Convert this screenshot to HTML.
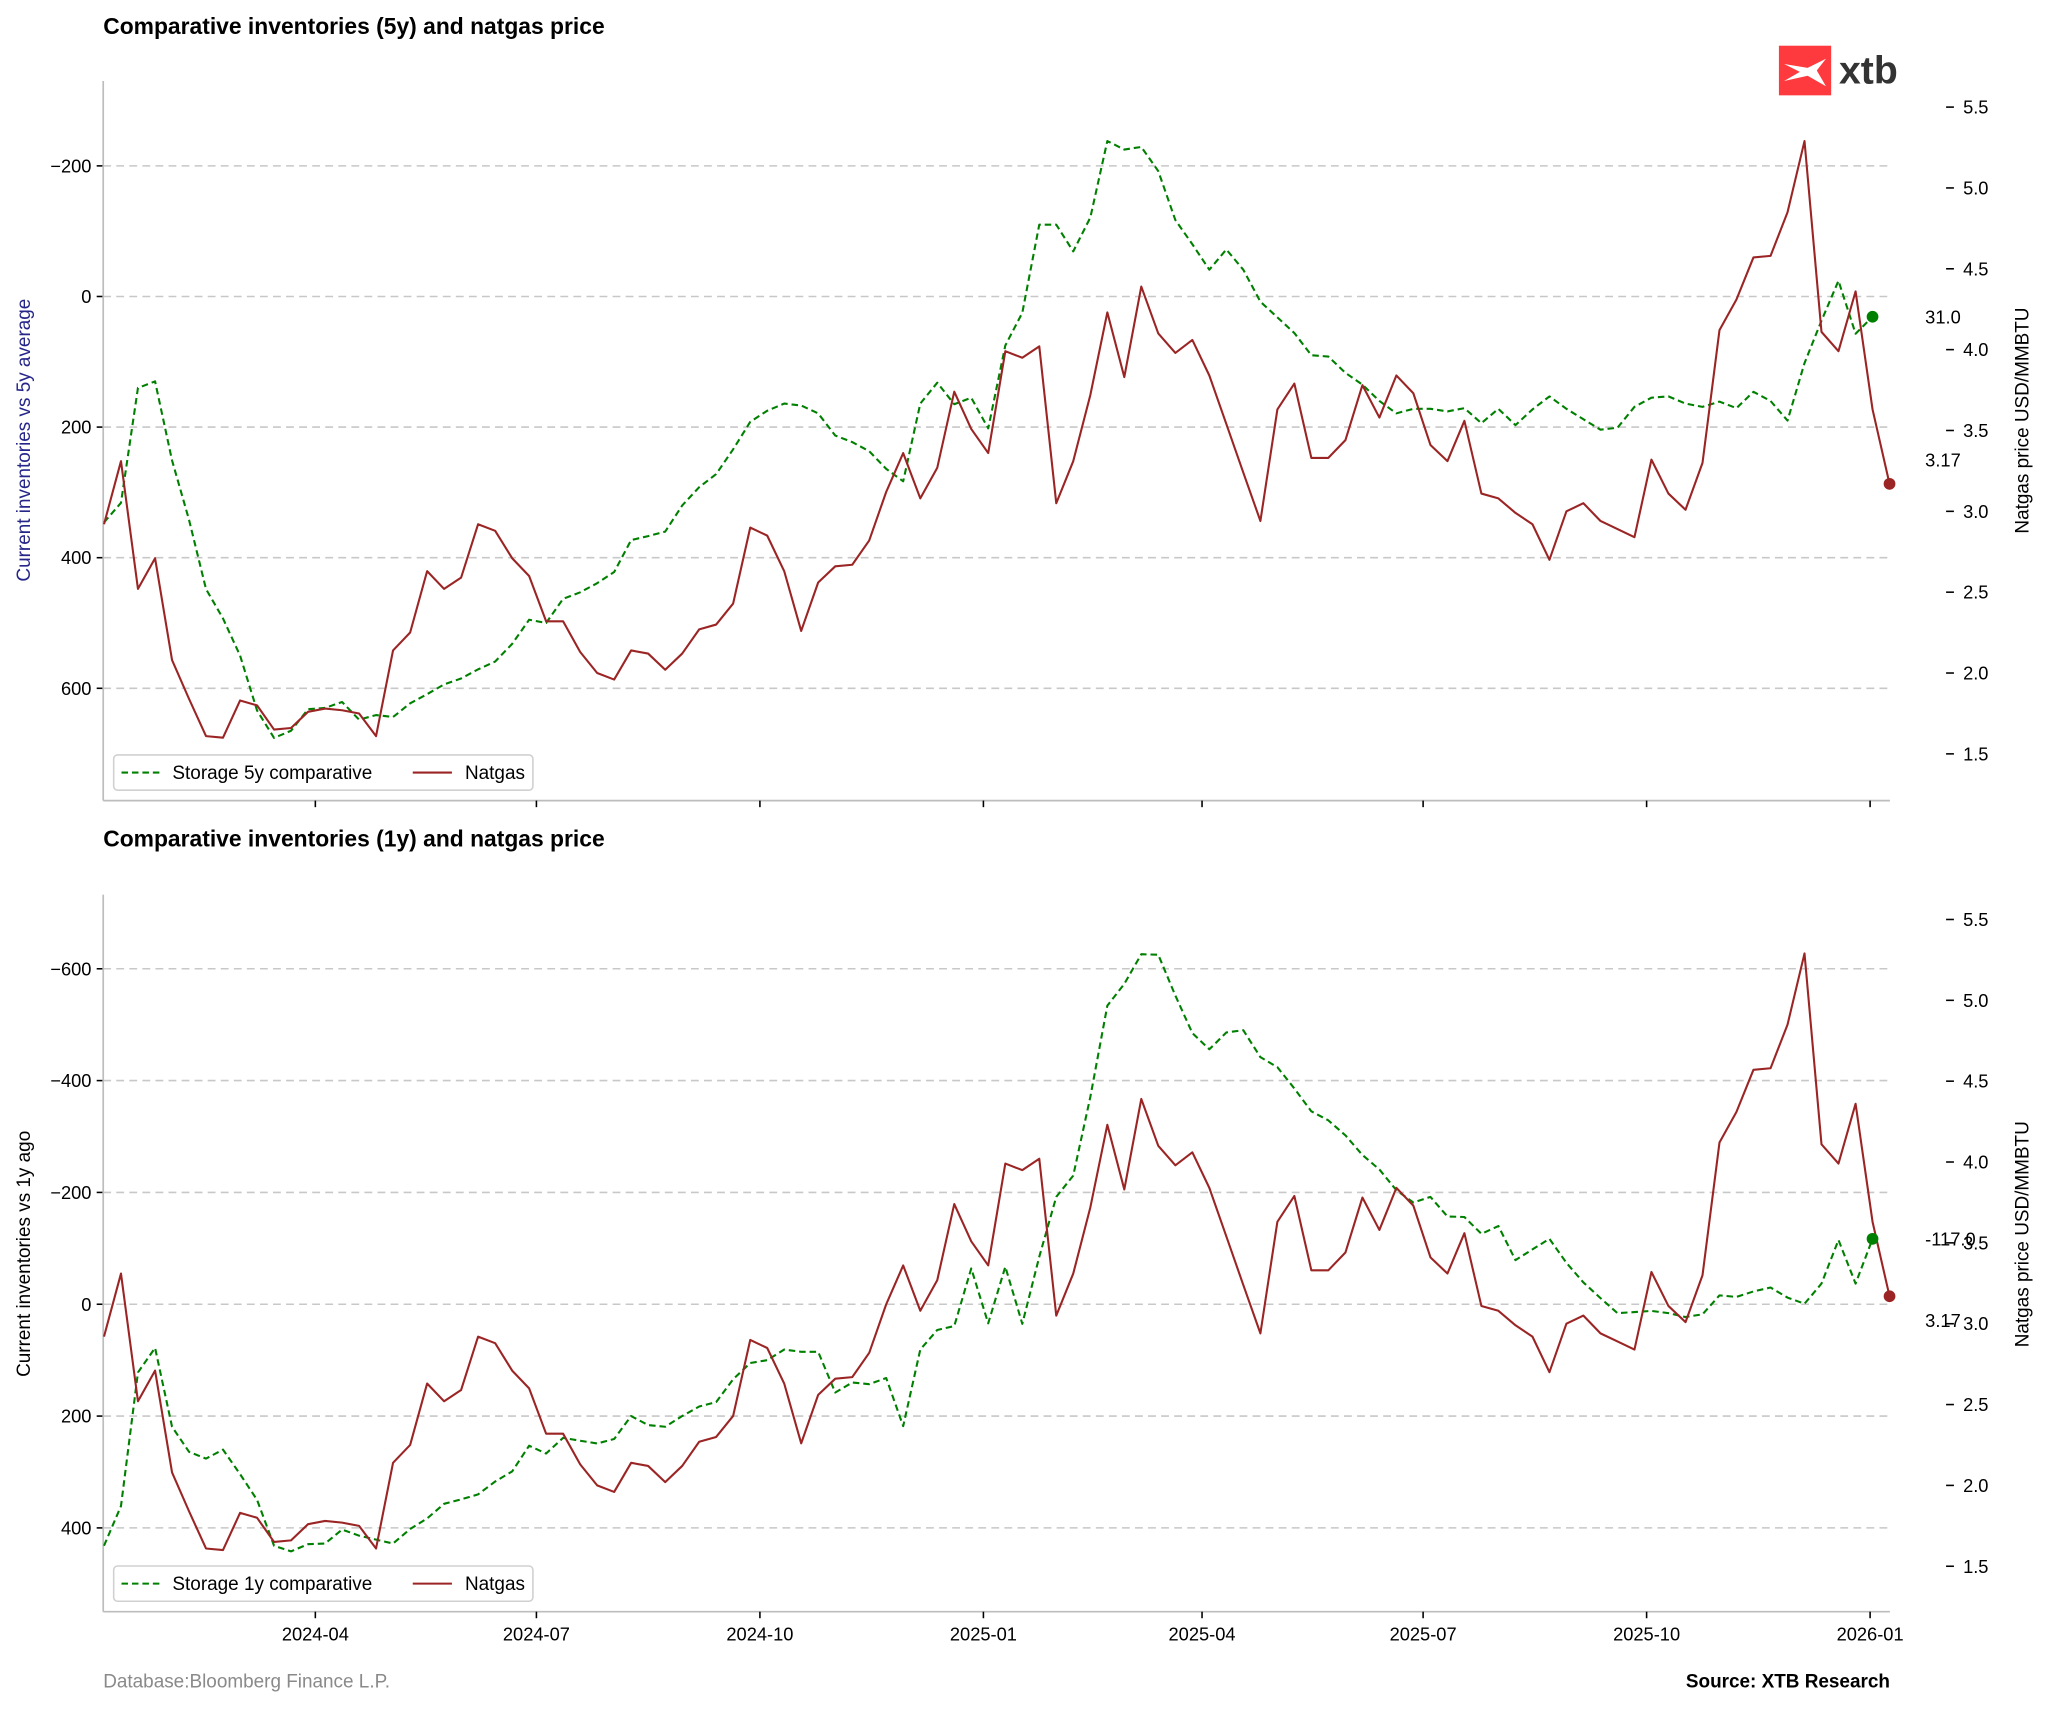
<!DOCTYPE html>
<html><head><meta charset="utf-8"><style>
html,body{margin:0;padding:0;background:#fff}
svg{display:block}
text{font-family:"Liberation Sans",Arial,sans-serif}
</style></head><body>
<svg id="c" width="2048" height="1709" viewBox="0 0 1568 1308.5" xmlns="http://www.w3.org/2000/svg"></svg>
<script>
const startDate = "2024-01-05";
const natgas = [2.92,3.31,2.52,2.71,2.08,1.84,1.61,1.60,1.83,1.80,1.65,1.66,1.76,1.78,1.77,1.75,1.61,2.14,2.25,2.63,2.52,2.59,2.92,2.88,2.71,2.60,2.32,2.32,2.13,2.00,1.96,2.14,2.12,2.02,2.12,2.27,2.30,2.43,2.90,2.85,2.63,2.26,2.56,2.66,2.67,2.82,3.12,3.36,3.08,3.27,3.74,3.51,3.36,3.99,3.95,4.02,3.05,3.31,3.72,4.23,3.83,4.39,4.10,3.98,4.06,3.84,3.54,3.24,2.94,3.63,3.79,3.33,3.33,3.44,3.78,3.58,3.84,3.73,3.41,3.31,3.56,3.11,3.08,2.99,2.92,2.70,3.00,3.05,2.94,2.89,2.84,3.32,3.11,3.01,3.30,4.12,4.31,4.57,4.58,4.85,5.29,4.11,3.99,4.36,3.63,3.17];
const storage5y = [346,316,140,130,251,342,448,493,550,634,676,665,632,630,621,648,641,644,623,609,594,585,571,559,532,495,500,463,453,439,422,373,367,360,320,292,272,234,192,175,164,167,179,213,223,237,264,283,164,132,165,155,202,75,25,-110,-110,-69,-121,-238,-225,-229,-192,-117,-80,-41,-72,-41,8,32,56,90,92,117,135,160,179,172,172,176,171,194,172,197,173,153,172,188,204,201,169,155,153,164,169,161,171,146,160,190,102,37,-24,57,31];
const storage1y = [432,361,122,78,219,264,276,260,304,350,432,442,429,428,403,414,421,428,402,383,357,349,340,317,299,253,267,239,244,249,241,200,216,219,200,183,175,134,105,100,81,85,85,158,140,143,132,218,81,46,39,-64,34,-67,35,-85,-192,-230,-371,-534,-573,-626,-625,-552,-485,-456,-486,-490,-442,-424,-386,-345,-329,-302,-267,-241,-204,-182,-192,-157,-156,-126,-140,-79,-98,-117,-74,-39,-11,16,14,12,16,23,18,-16,-13,-23,-30,-12,-1,-37,-115,-37,-117];
const xTickLabels = ["2024-04","2024-07","2024-10","2025-01","2025-04","2025-07","2025-10","2026-01"];
const invTicksTop = [-200,0,200,400,600];
const invTicksBot = [-600,-400,-200,0,200,400];
const priceTicks = [1.5,2.0,2.5,3.0,3.5,4.0,4.5,5.0,5.5];

const NS="http://www.w3.org/2000/svg";
const svg=document.getElementById('c');
function el(tag,attrs,parent,txt){const e=document.createElementNS(NS,tag);for(const k in attrs)e.setAttribute(k,attrs[k]);if(txt!==undefined)e.textContent=txt;(parent||svg).appendChild(e);return e;}
const X0=79.6, DX=13.02, L=79, R=1447;
const FS=14, FL=14.5;
const t0=Date.parse(startDate+"T00:00:00Z");
function xDate(s){return X0+(Date.parse(s+"-01T00:00:00Z")-t0)/86400000/7*DX;}
function xi(i){return X0+i*DX;}

function panel(o){
  const g=el('g',{});
  
  
  const inv=v=>o.y0+v*o.k, pr=p=>o.p55+(5.5-p)*123.8;
  let t=el('text',{x:L,y:o.titleY,'font-size':17.5,'font-weight':'bold',fill:'#000'},g,o.title);
  
  o.ticks.forEach(v=>{
    const y=inv(v);
    const gl=el('line',{x1:L,x2:R,y1:y,y2:y,stroke:'#c8c8c8','stroke-width':1.2,'stroke-dasharray':'6,4'},g);
    
    el('line',{x1:L-5,x2:L,y1:y,y2:y,stroke:'#000','stroke-width':1.2},g);
    const tl=el('text',{x:L-9,y:y+5,'font-size':FS,'text-anchor':'end',fill:'#000'},g,(v<0?'\u2212':'')+Math.abs(v));
    
  });
  el('line',{x1:L,x2:L,y1:o.top,y2:o.bot,stroke:'#bdbdbd','stroke-width':1.3},g);
  el('line',{x1:L,x2:R,y1:o.bot,y2:o.bot,stroke:'#bdbdbd','stroke-width':1.3},g);
  xTickLabels.forEach(s=>{
    const x=xDate(s);
    el('line',{x1:x,x2:x,y1:o.bot,y2:o.bot+5,stroke:'#000','stroke-width':1.2},g);
    if(o.xlabels){const xl=el('text',{x:x,y:o.bot+22,'font-size':FS,'text-anchor':'middle',fill:'#000'},g,s);
      }
  });
  priceTicks.forEach(p=>{
    const y=pr(p);
    el('line',{x1:1490,x2:1496,y1:y,y2:y,stroke:'#000','stroke-width':1.2},g);
    const rl=el('text',{x:1503,y:y+5,'font-size':FS,fill:'#000'},g,p.toFixed(1));
    
  });
  const yl=el('text',{x:0,y:0,'font-size':FL,'text-anchor':'middle',fill:o.ylabColor,transform:`translate(23,${o.ylabY}) rotate(-90)`},g,o.ylab);
  
  const yr=el('text',{x:0,y:0,'font-size':FL,'text-anchor':'middle',fill:'#000',transform:`translate(1553,${o.rlabY}) rotate(-90)`},g,'Natgas price USD/MMBTU');
  
  const gp=o.storage.map((v,i)=>xi(i).toFixed(1)+','+inv(v).toFixed(1)).join(' ');
  const gs=el('polyline',{points:gp,fill:'none',stroke:'#008000','stroke-width':1.6,'stroke-dasharray':'5,3','stroke-linejoin':'round'},g);
  
  const rp=natgas.map((p,i)=>xi(i).toFixed(1)+','+pr(p).toFixed(1)).join(' ');
  const rs=el('polyline',{points:rp,fill:'none',stroke:'#9b2525','stroke-width':1.6,'stroke-linejoin':'round'},g);
  
  const li=o.storage.length-1, ln=natgas.length-1;
  const gd=el('circle',{cx:xi(li),cy:inv(o.storage[li]),r:4.5,fill:'#008000'},g);
  
  const rd=el('circle',{cx:xi(ln),cy:pr(natgas[ln]),r:4.5,fill:'#9b2525'},g);
  
  const a1=el('text',{x:1474,y:inv(o.storage[li])+5,'font-size':FS,fill:'#000'},g,o.storage[li].toFixed(1));
  
  const a2=el('text',{x:1474,y:o.priceLabY,'font-size':FS,fill:'#000'},g,natgas[ln].toFixed(2));
  
  const lg=el('g',{},g);
  
  el('rect',{x:87,y:o.legY,width:321,height:27,rx:3,fill:'#fff',stroke:'#d0d0d0','stroke-width':1.2},lg);
  el('line',{x1:93,x2:122,y1:o.legY+13.5,y2:o.legY+13.5,stroke:'#008000','stroke-width':1.6,'stroke-dasharray':'5,3'},lg);
  const le1=el('text',{x:132,y:o.legY+18.5,'font-size':FL,fill:'#000'},lg,o.legText);
  
  el('line',{x1:316,x2:346,y1:o.legY+13.5,y2:o.legY+13.5,stroke:'#9b2525','stroke-width':1.6},lg);
  const le2=el('text',{x:356,y:o.legY+18.5,'font-size':FL,fill:'#000'},lg,'Natgas');
  
}
panel({name:'top-panel',title:'Comparative inventories (5y) and natgas price',titleY:26,top:62,bot:613,y0:227,k:0.5,p55:82,
  ticks:invTicksTop,storage:storage5y,xlabels:false,ylab:'Current inventories vs 5y average',ylabColor:'#26268a',ylabY:337,rlabY:322,
  priceLabY:357,legY:578,legText:'Storage 5y comparative'});
panel({name:'bottom-panel',title:'Comparative inventories (1y) and natgas price',titleY:648,top:685,bot:1234,y0:998.6,k:0.4281,p55:704,
  ticks:invTicksBot,storage:storage1y,xlabels:true,ylab:'Current inventories vs 1y ago',ylabColor:'#000',ylabY:960,rlabY:945,
  priceLabY:1016,legY:1199,legText:'Storage 1y comparative'});
const lg=el('g',{});

el('rect',{x:1362,y:35,width:40,height:38,fill:'#ff3a3f'},lg);
el('path',{d:'M1366 49 L1384 52 L1398 45 L1391 54 L1398 66 L1384 58 L1366 62 L1378 55 Z',fill:'#fff'},lg);
el('text',{x:1408,y:64,'font-size':30,fill:'#333','font-weight':'bold'},lg,'xtb');
const f1=el('text',{x:79,y:1292,'font-size':FL,fill:'#8a8a8a'},svg,'Database:Bloomberg Finance L.P.');

const f2=el('text',{x:1447,y:1292,'font-size':FL,'font-weight':'bold','text-anchor':'end',fill:'#000'},svg,'Source: XTB Research');

</script>
</body></html>
